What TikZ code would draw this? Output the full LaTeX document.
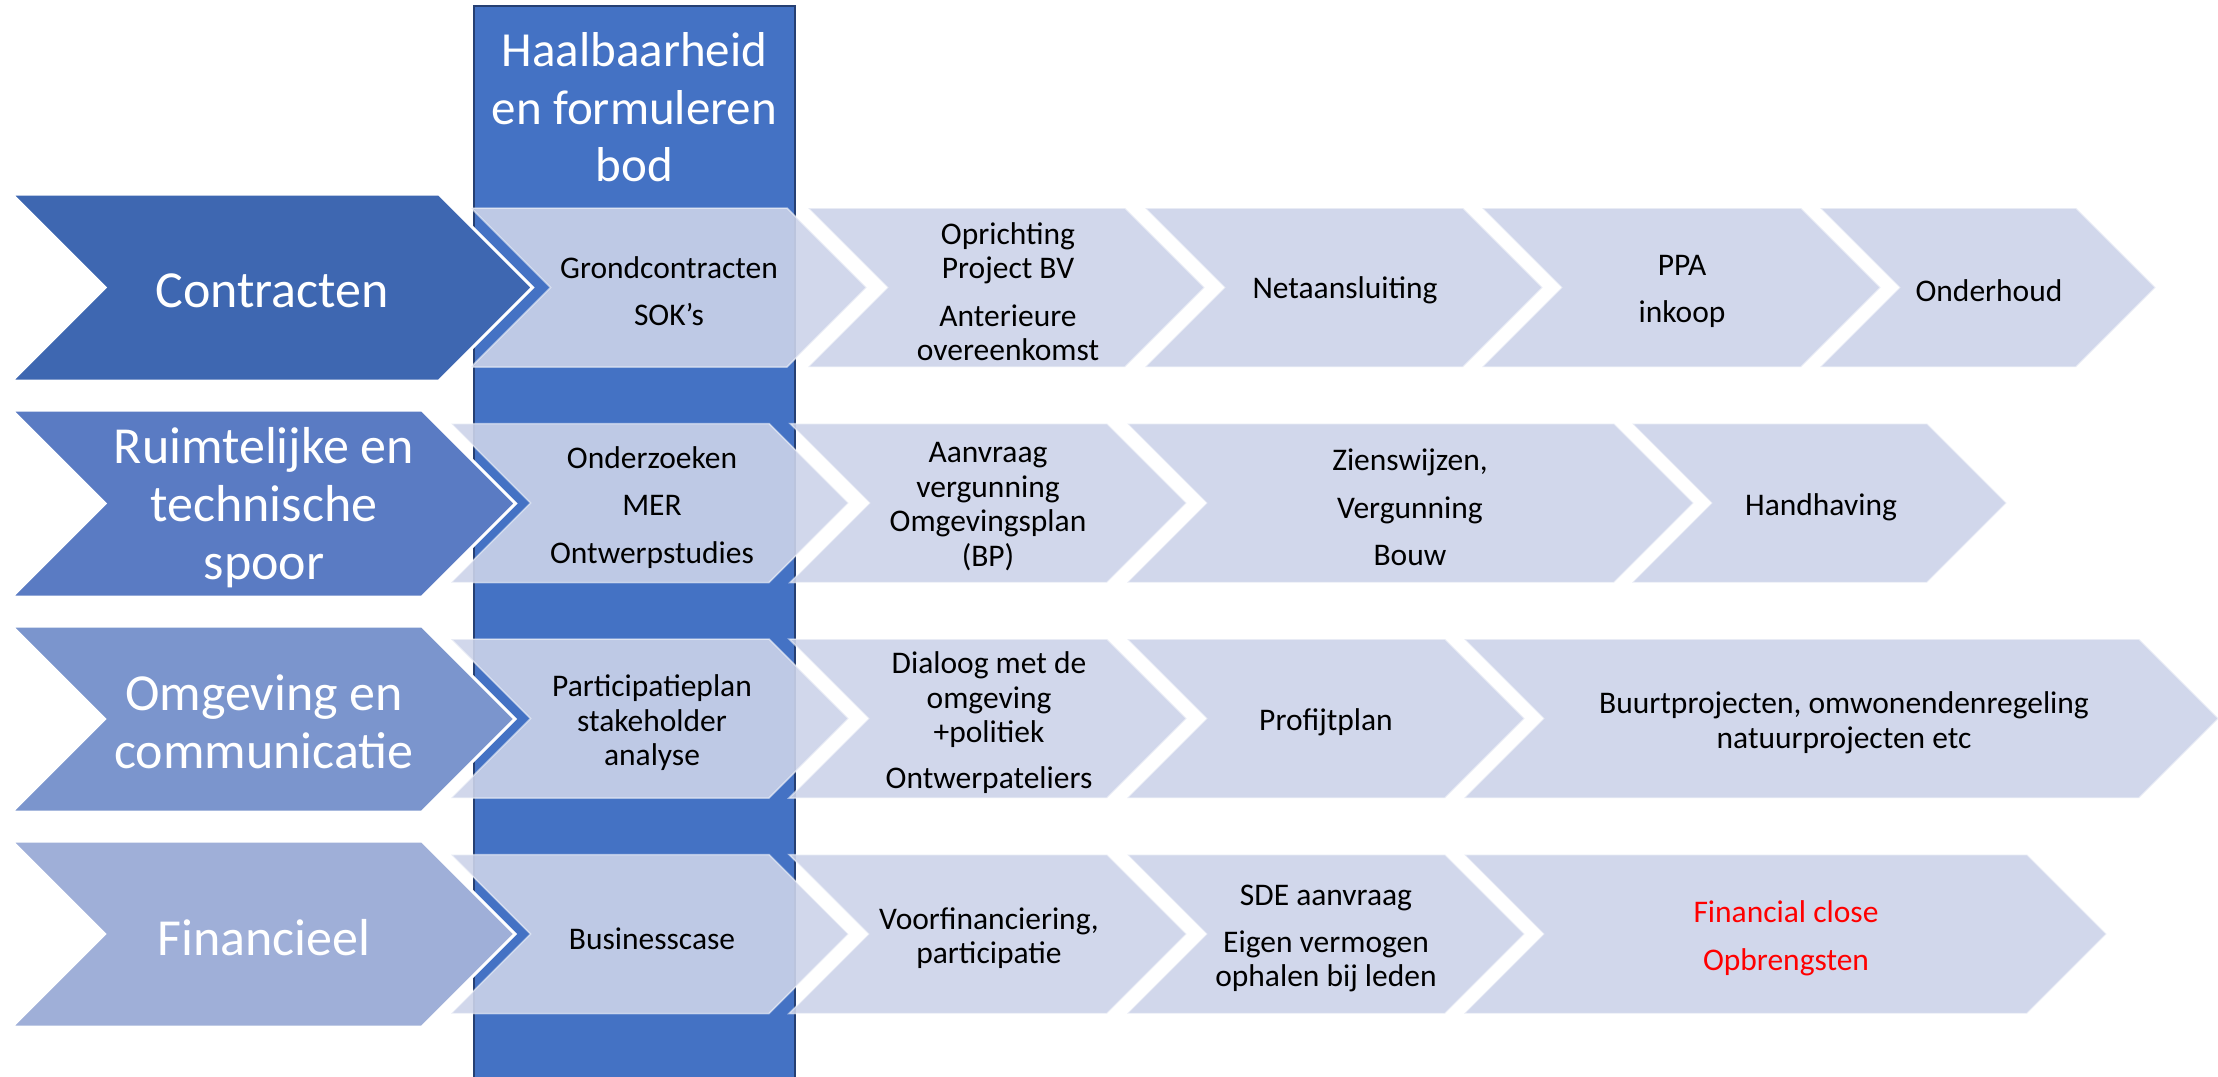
\documentclass[tikz,border=0pt]{standalone}
\usepackage{fontspec}
\setmainfont{Carlito}
\definecolor{colblue}{RGB}{68,114,196}
\definecolor{colborder}{RGB}{38,64,115}
\definecolor{cA}{RGB}{62,103,177}
\definecolor{cB}{RGB}{90,123,195}
\definecolor{cC}{RGB}{123,149,205}
\definecolor{cD}{RGB}{159,175,216}
\definecolor{subfill}{RGB}{204,211,233}
\definecolor{redtxt}{RGB}{255,0,0}
\newcommand\mychev[5]{%
  \pgfmathsetmacro\chvh{(#5-#4)/2}%
  \pgfmathsetmacro\chvm{(#5+#4)/2}%
  \path[#1] (#2,#4) -- (#3,#4) -- ({#3+\chvh},\chvm) -- (#3,#5) -- (#2,#5) -- ({#2+\chvh},\chvm) -- cycle;}
\tikzset{
  big/.style={draw=white, line width=3pt, line join=miter},
  subchev/.style={fill=subfill, fill opacity=0.9, draw=white, draw opacity=0.5, line width=1.5pt},
  bigtxt/.style={text=white, align=center, inner sep=0pt, yshift=-2.5pt, font=\fontsize{52}{58}\selectfont},
  hdrtxt/.style={text=white, align=center, inner sep=0pt, font=\fontsize{49}{57.5}\selectfont},
  subtxt/.style={text=black, align=center, inner sep=0pt, yshift=-2.5pt, font=\fontsize{31.5}{34.5}\selectfont},
}
\begin{document}
\begin{tikzpicture}[x=1pt, y=-1pt]
\useasboundingbox (0,0) rectangle (2218,1076);
\fill[white] (0,0) rectangle (2218,1076);
% column
\path[fill=colblue, draw=colborder, line width=2.5pt] (474,6) rectangle (795,1090);
\node[hdrtxt] (hdr) at (634.5,107.5) {Haalbaarheid\\en formuleren\\bod};
% big chevrons
\mychev{big, fill=cA}{11.5}{439}{194}{381}
\mychev{big, fill=cB}{11.5}{422}{410}{597}
\mychev{big, fill=cC}{11.5}{422}{626}{812}
\mychev{big, fill=cD}{11.5}{422}{841}{1027}
% row 1 sub chevrons
\mychev{subchev}{471}{787}{208}{367}
\mychev{subchev}{808}{1125}{208}{367}
\mychev{subchev}{1145}{1463}{208}{367}
\mychev{subchev}{1482}{1801}{208}{367}
\mychev{subchev}{1820}{2076}{208}{367}
% row 2
\mychev{subchev}{451}{769}{423.5}{582.5}
\mychev{subchev}{790}{1107}{423.5}{582.5}
\mychev{subchev}{1127}{1614}{423.5}{582.5}
\mychev{subchev}{1632}{1927}{423.5}{582.5}
% row 3
\mychev{subchev}{451}{769}{639}{798}
\mychev{subchev}{789}{1107}{639}{798}
\mychev{subchev}{1127}{1445}{639}{798}
\mychev{subchev}{1464}{2139}{639}{798}
% row 4
\mychev{subchev}{451}{769}{854.5}{1013.5}
\mychev{subchev}{789}{1107}{854.5}{1013.5}
\mychev{subchev}{1127}{1445}{854.5}{1013.5}
\mychev{subchev}{1464}{2027}{854.5}{1013.5}
% big labels
\node[bigtxt] (lA) at (272,288) {Contracten};
\node[bigtxt] (lB) at (264,505) {Ruimtelijke en\\technische\\spoor};
\node[bigtxt] (lC) at (264,719) {Omgeving en\\communicatie};
\node[bigtxt] (lD) at (264,935) {Financieel};
% row 1 texts
\node[subtxt] (t11) at (669,288.5) {Grondcontracten\\[12.5pt]SOK’s};
\node[subtxt] (t12) at (1008,289) {Oprichting\\Project BV\\[13pt]Anterieure\\overeenkomst};
\node[subtxt] (t13) at (1345,288) {Netaansluiting};
\node[subtxt] (t14) at (1682,288.5) {PPA\\[12.5pt]inkoop};
\node[subtxt] (t15) at (1989,288) {Onderhoud};
% row 2 texts
\node[subtxt] (t21) at (652,505) {Onderzoeken\\[13pt]MER\\[13pt]Ontwerpstudies};
\node[subtxt] (t22) at (988,504) {Aanvraag\\vergunning\\Omgevingsplan\\(BP)};
\node[subtxt] (t23) at (1410,505) {Zienswijzen,\\[13pt]Vergunning\\[13pt]Bouw};
\node[subtxt] (t24) at (1821,505) {Handhaving};
% row 3 texts
\node[subtxt] (t31) at (652,720.5) {Participatieplan\\stakeholder\\analyse};
\node[subtxt] (t32) at (989,720) {Dialoog met de\\omgeving\\+politiek\\[11pt]Ontwerpateliers};
\node[subtxt] (t33) at (1326,720) {Profijtplan};
\node[subtxt] (t34) at (1844,720.5) {Buurtprojecten, omwonendenregeling\\natuurprojecten etc};
% row 4 texts
\node[subtxt] (t41) at (652,936) {Businesscase};
\node[subtxt] (t42) at (989,935.5) {Voorfinanciering,\\participatie};
\node[subtxt] (t43) at (1326,936) {SDE aanvraag\\[12pt]Eigen vermogen\\ophalen bij leden};
\node[subtxt, text=redtxt] (t44) at (1786,936) {Financial close\\[13pt]Opbrengsten};
\end{tikzpicture}
\end{document}
